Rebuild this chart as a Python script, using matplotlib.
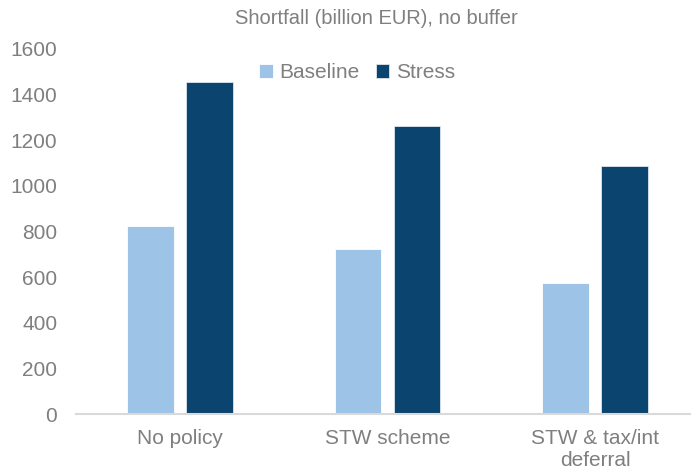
import matplotlib
matplotlib.use("Agg")
import matplotlib.pyplot as plt
import numpy as np

categories = ["No policy", "STW scheme", "STW & tax/int\ndeferral"]
baseline = [824, 723, 576]
stress = [1456, 1263, 1085]
series_names = ["Baseline", "Stress"]
yticks = [0, 200, 400, 600, 800, 1000, 1200, 1400, 1600]

plt.rcParams['font.family'] = ['Liberation Sans', 'DejaVu Sans']
txt = '#7f7f7f'
c_base = '#9dc3e6'
c_str = '#0b446f'

fig = plt.figure(figsize=(6.91, 4.76), dpi=100)
ax = fig.add_axes([76/691, (476-414)/476, (699-76)/691, (414-49)/476])

x = np.arange(len(categories))
w = 0.226
off = 0.142
ax.bar(x - off, baseline, w, color=c_base, edgecolor='white', linewidth=0.6, label=series_names[0])
ax.bar(x + off, stress, w, color=c_str, edgecolor='#dce6f0', linewidth=0.6, label=series_names[1])

ax.set_xlim(-0.5, 2.5)
ax.set_ylim(0, 1600)
ax.set_yticks(yticks)
ax.set_xticks(x)
ax.set_xticklabels(categories)
for s in ['top', 'right', 'left']:
    ax.spines[s].set_visible(False)
ax.spines['bottom'].set_color('#d9d9d9')
ax.spines['bottom'].set_linewidth(1.5)
ax.tick_params(axis='both', length=0, colors=txt, labelsize=15)
ax.tick_params(axis='y', pad=13.5)
ax.tick_params(axis='x', pad=11)
for lab in ax.get_xticklabels():
    lab.set_linespacing(1.2)

fig.text(376/691, 1 - 18/476, "Shortfall (billion EUR), no buffer", ha='center', va='center',
         color=txt, fontsize=14.5)

leg = ax.legend(loc='center', bbox_to_anchor=(357/691, 1 - 73/476), bbox_transform=fig.transFigure,
                ncol=2, frameon=False, fontsize=15, handlelength=0.65, handleheight=0.65,
                handletextpad=0.3, columnspacing=0.8, labelcolor=txt)

fig.savefig("out.png", dpi=100)
